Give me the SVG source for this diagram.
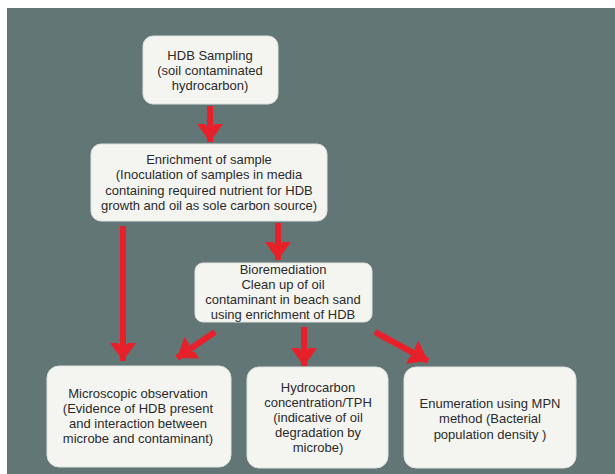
<svg xmlns="http://www.w3.org/2000/svg" width="615" height="474" viewBox="0 0 615 474">
<defs>
<style>
.box{fill:#f4f5f1;stroke:#dfe3e0;stroke-width:1}
.t{font-family:"Liberation Sans",Arial,sans-serif;font-size:13px;fill:#2b2b2b;text-anchor:middle}
.c{stroke:#e8202a;stroke-width:6;fill:none}
</style>
<marker id="ah" markerUnits="userSpaceOnUse" markerWidth="30" markerHeight="30" viewBox="0 0 30 30" refX="20" refY="15" orient="auto">
<path d="M2,2 L20,15 L2,28 L2,20 L8,15 L2,10 Z" fill="#e8202a"/>
<path d="M0,12 L14,12 L14,18 L0,18 Z" fill="#e8202a"/>
</marker>
</defs>
<rect x="0" y="0" width="615" height="474" fill="#ffffff"/>
<rect x="7" y="8" width="608" height="466" fill="#627676"/>
<g id="connectors">
<line class="c" x1="210" y1="106" x2="210" y2="142" marker-end="url(#ah)"/>
<line class="c" x1="278" y1="223" x2="278" y2="260" marker-end="url(#ah)"/>
<line class="c" x1="123" y1="226" x2="123" y2="361" marker-end="url(#ah)"/>
<line class="c" x1="215" y1="332" x2="177" y2="358" marker-end="url(#ah)"/>
<line class="c" x1="304" y1="327" x2="304" y2="366" marker-end="url(#ah)"/>
<line class="c" x1="375" y1="332" x2="428" y2="361" marker-end="url(#ah)"/>
</g>
<g id="n1">
<rect class="box" x="143" y="36" width="135" height="68" rx="10"/>
<text class="t" x="210" y="60">HDB Sampling</text>
<text class="t" x="210" y="75">(soil contaminated</text>
<text class="t" x="210" y="90">hydrocarbon)</text>
</g>
<g id="n2">
<rect class="box" x="91" y="144" width="236" height="77" rx="10"/>
<text class="t" x="209" y="164">Enrichment of sample</text>
<text class="t" x="209" y="179">(Inoculation of samples  in media</text>
<text class="t" x="209" y="195">containing required nutrient for HDB</text>
<text class="t" x="209" y="210">growth and oil as sole carbon source)</text>
</g>
<g id="n3">
<rect class="box" x="195" y="263" width="177" height="59" rx="8"/>
<text class="t" x="283" y="274">Bioremediation</text>
<text class="t" x="283" y="289">Clean up of oil</text>
<text class="t" x="283" y="304">contaminant in beach sand</text>
<text class="t" x="283" y="319">using enrichment  of HDB</text>
</g>
<g id="n4">
<rect class="box" x="47" y="366" width="184" height="101" rx="12"/>
<text class="t" x="138" y="398">Microscopic observation</text>
<text class="t" x="138" y="413">(Evidence of HDB present</text>
<text class="t" x="138" y="428">and interaction between</text>
<text class="t" x="138" y="443">microbe and contaminant)</text>
</g>
<g id="n5">
<rect class="box" x="247" y="367" width="141" height="101" rx="12"/>
<text class="t" x="318" y="392">Hydrocarbon</text>
<text class="t" x="318" y="407">concentration/TPH</text>
<text class="t" x="318" y="422">(indicative of oil</text>
<text class="t" x="318" y="437">degradation by</text>
<text class="t" x="318" y="452">microbe)</text>
</g>
<g id="n6">
<rect class="box" x="404" y="367" width="172" height="101" rx="12"/>
<text class="t" x="490" y="408">Enumeration using MPN</text>
<text class="t" x="490" y="423">method (Bacterial</text>
<text class="t" x="490" y="439">population density )</text>
</g>
</svg>
